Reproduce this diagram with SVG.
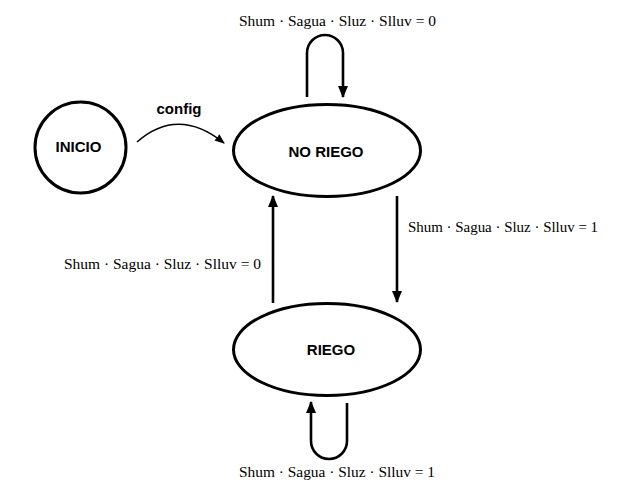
<svg xmlns="http://www.w3.org/2000/svg" width="641" height="501" viewBox="0 0 641 501">
<defs>
<style>
.node{fill:#fff;stroke:#000;stroke-width:3}
.lbl{font-family:"Liberation Sans",Arial,sans-serif;font-weight:bold;font-size:15px;fill:#000;text-anchor:middle}
.cond{font-family:"Liberation Serif","Times New Roman",serif;font-size:15px;fill:#000}
.edge{fill:none;stroke:#000;stroke-width:2.6}
.thin{fill:none;stroke:#000;stroke-width:1.6}
</style>
<marker id="ah" markerUnits="userSpaceOnUse" markerWidth="12" markerHeight="12" viewBox="0 0 12 12" refX="11" refY="6" orient="auto">
<path d="M0,1 L12,6 L0,11 Z" fill="#000"/>
</marker>
<marker id="ahs" markerUnits="userSpaceOnUse" markerWidth="10" markerHeight="10" viewBox="0 0 10 10" refX="9" refY="5" orient="auto">
<path d="M0,1 L10,5 L0,9 Z" fill="#000"/>
</marker>
</defs>
<rect width="641" height="501" fill="#fff"/>
<g id="connectors">
<path class="thin" d="M137,142 Q178,106 224,143" marker-end="url(#ahs)"/>
<path class="edge" d="M307,97 L307,53 A18,18 0 0 1 343,53 L343,97" marker-end="url(#ah)"/>
<path class="edge" d="M397,196 L397,302" marker-end="url(#ah)"/>
<path class="edge" d="M273,303 L273,196" marker-end="url(#ah)"/>
<path class="edge" d="M347,403 L347,441 A18,18 0 0 1 311,441 L311,402" marker-end="url(#ah)"/>
<text class="lbl" x="179" y="114" font-size="14">config</text>
<text class="cond" x="239" y="26" textLength="197" lengthAdjust="spacingAndGlyphs">Shum · Sagua · Sluz · Slluv = 0</text>
<text class="cond" x="408" y="232" textLength="190" lengthAdjust="spacingAndGlyphs">Shum · Sagua · Sluz · Slluv = 1</text>
<text class="cond" x="64" y="269" textLength="197" lengthAdjust="spacingAndGlyphs">Shum · Sagua · Sluz · Slluv = 0</text>
<text class="cond" x="239" y="477" textLength="196" lengthAdjust="spacingAndGlyphs">Shum · Sagua · Sluz · Slluv = 1</text>
</g>
<g id="inicio">
<circle class="node" cx="80.5" cy="147.5" r="45.5"/>
<text class="lbl" x="78.5" y="152">INICIO</text>
</g>
<g id="no-riego">
<ellipse class="node" cx="327" cy="150.5" rx="93.5" ry="46"/>
<text class="lbl" x="326" y="157">NO RIEGO</text>
</g>
<g id="riego">
<ellipse class="node" cx="327" cy="349.5" rx="93.5" ry="46"/>
<text class="lbl" x="331" y="355">RIEGO</text>
</g>
</svg>
